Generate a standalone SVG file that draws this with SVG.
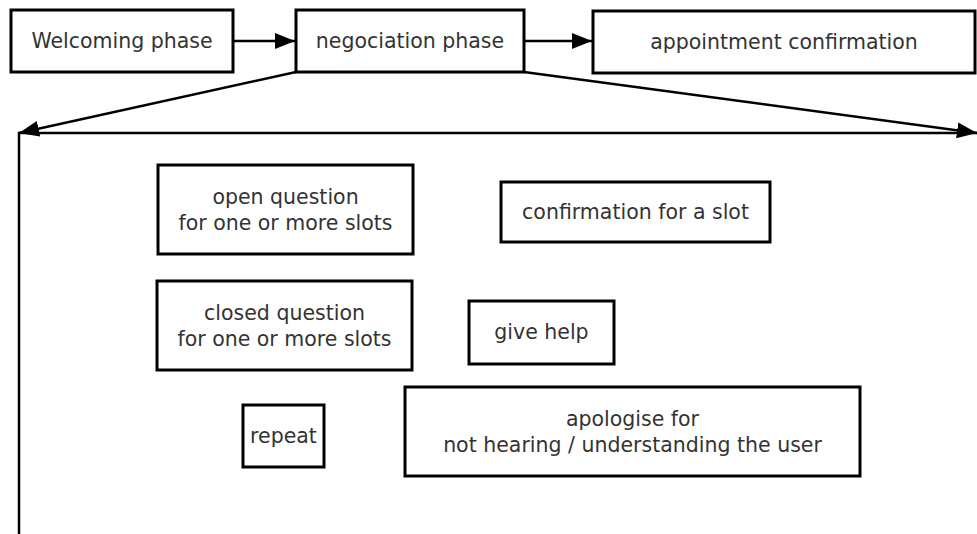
<svg xmlns="http://www.w3.org/2000/svg" width="977" height="534" viewBox="0 0 977 534">
<style>
.box{fill:#fff;stroke:#000;stroke-width:3}
.t{font-family:"DejaVu Sans",sans-serif;font-size:20.5px;fill:#333;text-anchor:middle}
.c{fill:none;stroke:#000;stroke-width:2.5}
</style>
<defs>
<marker id="ah" markerUnits="userSpaceOnUse" markerWidth="22" markerHeight="18" refX="20" refY="9" orient="auto">
<path d="M0,1 L20,9 L0,17 Z" fill="#000"/>
</marker>
</defs>
<rect width="977" height="534" fill="#fff"/>
<g id="connectors">
<line class="c" x1="233" y1="41" x2="295" y2="41" marker-end="url(#ah)"/>
<line class="c" x1="524" y1="41" x2="592" y2="41" marker-end="url(#ah)"/>
<line class="c" x1="296" y1="72" x2="19" y2="133" marker-end="url(#ah)"/>
<line class="c" x1="524" y1="72" x2="977" y2="133" marker-end="url(#ah)"/>
<polyline class="c" points="977,133 19,133 19,534"/>
</g>
<g id="welcoming"><rect class="box" x="11" y="10" width="222" height="62"/><text class="t" x="122" y="48">Welcoming phase</text></g>
<g id="negociation"><rect class="box" x="296" y="10" width="228" height="62"/><text class="t" x="410" y="48">negociation phase</text></g>
<g id="appointment"><rect class="box" x="593" y="11" width="382" height="62"/><text class="t" x="784" y="49">appointment confirmation</text></g>
<g id="open"><rect class="box" x="158" y="165" width="255" height="89"/><text class="t" x="285.5" y="204">open question</text><text class="t" x="285.5" y="230">for one or more slots</text></g>
<g id="confirmation"><rect class="box" x="501" y="182" width="269" height="60"/><text class="t" x="635.5" y="219">confirmation for a slot</text></g>
<g id="closed"><rect class="box" x="157" y="281" width="255" height="89"/><text class="t" x="284.5" y="320">closed question</text><text class="t" x="284.5" y="346">for one or more slots</text></g>
<g id="help"><rect class="box" x="469" y="301" width="145" height="63"/><text class="t" x="541.5" y="339">give help</text></g>
<g id="repeat"><rect class="box" x="243" y="405" width="81" height="62"/><text class="t" x="283.5" y="443">repeat</text></g>
<g id="apologise"><rect class="box" x="405" y="387" width="455" height="89"/><text class="t" x="632.5" y="426">apologise for</text><text class="t" x="632.5" y="452">not hearing / understanding the user</text></g>
</svg>
